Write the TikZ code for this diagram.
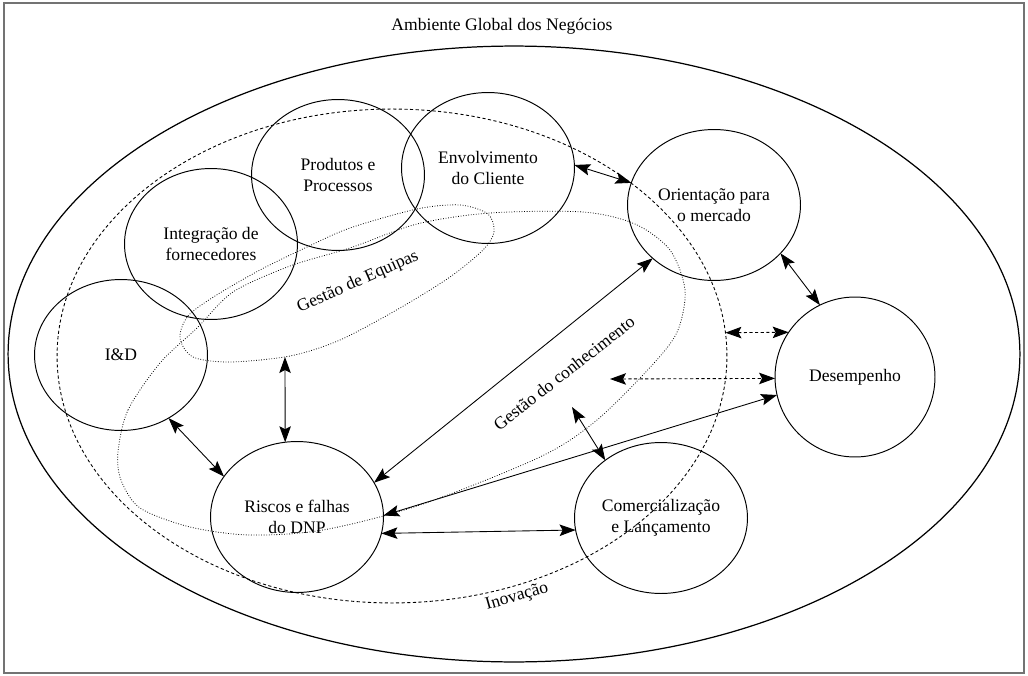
\documentclass[tikz,border=0pt]{standalone}
\usepackage{fontspec}
\setmainfont{Liberation Serif}
\usetikzlibrary{arrows.meta,shapes.geometric}

\tikzset{
	bubble/.style={draw, ellipse, line width=0.55pt, inner sep=0pt, outer sep=0pt,
		minimum width=3.46cm, minimum height=3.02cm, align=center},
	zone/.style={draw, ellipse, inner sep=0pt, outer sep=0pt},
	link/.style={line width=0.5pt, {Stealth[length=3.2mm,width=2.3mm,inset=0.6mm]}-{Stealth[length=3.2mm,width=2.3mm,inset=0.6mm]}},
	dlink/.style={link, dash pattern=on 1.8pt off 1.4pt},
	tag/.style={inner sep=1pt}
}

\begin{document}
\begin{tikzpicture}[x=0.02cm, y=-0.02cm, font=\fontsize{10}{12}\selectfont]
	%%%%% FRAME %%%%%
	\useasboundingbox (0,0) rectangle (1028,676);
	\draw[black!55, line width=1.1pt] (4,3) rectangle (1024,673);
	\node[tag] (ambiente) at (502,26) {Ambiente Global dos Negócios};
	
	%%%%% ZONES %%%%%
	\node[zone, line width=0.7pt, minimum width=20.24cm, minimum height=12.32cm] (globo) at (514,354) {};
	\node[zone, line width=0.5pt, dash pattern=on 1.8pt off 1.4pt, minimum width=13.4cm, minimum height=9.88cm] (inovacao) at (392,356) {};
	
	\draw[line width=0.45pt, densely dotted] plot[smooth cycle] coordinates {
		(118,452) (128,410) (160,363) (197,328) (233,292) (290,266) (350,248) (417,224)
		(490,213) (583,212) (635,224) (670,250) (685,290) (678,330) (655,362) (597,420)
		(540,457) (420,505) (323,530) (250,535) (190,527) (140,508) (121,480)};
	\draw[line width=0.45pt, densely dotted] plot[smooth cycle] coordinates {
		(180,338) (188,316) (215,296) (260,270) (305,248) (350,228) (417,209) (460,205)
		(488,214) (494,232) (483,250) (450,277) (400,308) (340,340) (290,356) (230,362) (193,357)};
	
	\node[tag, rotate=16] (rotinov) at (517,597) {Inovação};
	\node[tag, rotate=24] (roteq) at (358,282) {Gestão de Equipas};
	\node[tag, rotate=38] (rotconh) at (564,373) {Gestão do conhecimento};
	
	%%%%% BUBBLES %%%%%
	\node[bubble] (produtos) at (338,175) {Produtos e\\Processos};
	\node[bubble] (env) at (488,168) {Envolvimento\\do Cliente};
	\node[bubble] (integ) at (211,244) {Integração de\\fornecedores};
	\node[bubble] (id) at (121,355) {I\&D};
	\node[bubble] (orient) at (714,205) {Orientação para\\o mercado};
	\node[bubble, minimum width=3.2cm, minimum height=3.2cm] (desemp) at (855,377) {Desempenho};
	\node[bubble] (riscos) at (297,517) {Riscos e falhas\\do DNP};
	\node[bubble] (comerc) at (661,518) {Comercialização\\e Lançamento};
	
	\coordinate (eqfoot) at (285,357);
	\coordinate (conhtip) at (572,407);
	\coordinate (conhleft) at (610,379);
	
	%%%%% LINKS %%%%%
	\draw[link] (env.2) -- (orient.165);
	\draw[link] (orient.-36) -- (desemp.116);
	\draw[dlink] (inovacao.4) -- (desemp.146);
	\draw[dlink] (conhleft) -- (desemp.181);
	\draw[link] (conhtip) -- (comerc.134);
	\draw[link] (orient.221) -- (riscos.24);
	\draw[link] (desemp.193) -- (riscos.1);
	\draw[link] (eqfoot) -- (riscos.99);
	\draw[link] (id.-53) -- (riscos.151);
	\draw[link] (riscos.-11) -- (comerc.188);
\end{tikzpicture}
\end{document}
